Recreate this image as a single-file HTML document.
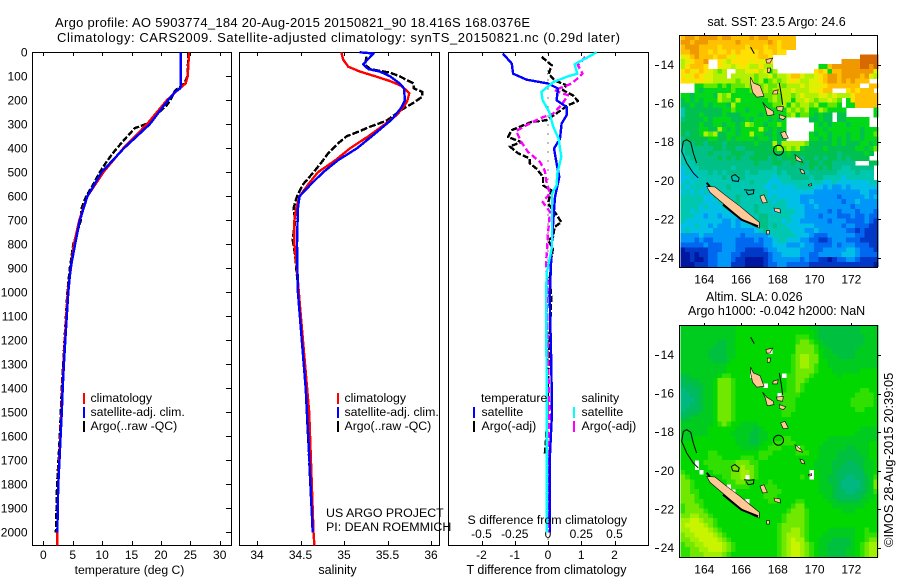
<!DOCTYPE html>
<html lang="en">
<head>
<meta charset="utf-8">
<title>Argo profile 5903774_184</title>
<style>
html,body{margin:0;padding:0;background:#fff;}
svg{display:block;}
text{font-family:"Liberation Sans",Arial,sans-serif;font-size:12.5px;fill:#000;}
</style>
</head>
<body>
<svg id="chart" xmlns="http://www.w3.org/2000/svg" width="900" height="580" viewBox="0 0 900 580">
<rect x="0" y="0" width="900" height="580" fill="#fff"/>
<text x="55" y="27" style="font-size:13px" textLength="475" lengthAdjust="spacing">Argo profile: AO 5903774_184 20-Aug-2015 20150821_90 18.416S 168.0376E</text>
<text x="57" y="42" style="font-size:13px" textLength="563" lengthAdjust="spacing">Climatology: CARS2009. Satellite-adjusted climatology: synTS_20150821.nc (0.29d later)</text>
<text x="129.5" y="574" text-anchor="middle" style="font-size:12.2px">temperature (deg C)</text>
<text x="337.5" y="574" text-anchor="middle">salinity</text>
<text x="546.5" y="574" text-anchor="middle">T difference from climatology</text>
<text x="467.5" y="524" style="font-size:12.4px">S difference from climatology</text>
<text x="326" y="517" style="font-size:12.4px">US ARGO PROJECT</text>
<text x="326" y="531" style="font-size:12.4px">PI: DEAN ROEMMICH</text>
<text x="776.5" y="26" text-anchor="middle">sat. SST: 23.5 Argo: 24.6</text>
<text x="706" y="301">Altim. SLA: 0.026</text>
<text x="688" y="315">Argo h1000: -0.042 h2000: NaN</text>
<text transform="translate(893,547) rotate(-90)" style="font-size:12.9px">©IMOS 28-Aug-2015 20:39:05</text>
<text x="90.5" y="402" style="font-size:12.3px">climatology</text>
<text x="90.5" y="416" style="font-size:12.3px">satellite-adj. clim.</text>
<text x="90.5" y="430" style="font-size:12.3px">Argo(..raw -QC)</text>
<text x="344.5" y="402" style="font-size:12.3px">climatology</text>
<text x="344.5" y="416" style="font-size:12.3px">satellite-adj. clim.</text>
<text x="344.5" y="430" style="font-size:12.3px">Argo(..raw -QC)</text>
<text x="481" y="402" style="font-size:12.3px">temperature</text>
<text x="481.5" y="416" style="font-size:12.3px">satellite</text>
<text x="481.5" y="430" style="font-size:12.3px">Argo(-adj)</text>
<text x="581.5" y="402" style="font-size:12.3px">salinity</text>
<text x="581.5" y="416" style="font-size:12.3px">satellite</text>
<text x="581.5" y="430" style="font-size:12.3px">Argo(-adj)</text>
</svg>
<script>
// ---- axis tick values ----
var depthTicks=[0,100,200,300,400,500,600,700,800,900,1000,1100,1200,1300,1400,1500,1600,1700,1800,1900,2000];
var tempTicks=[0,5,10,15,20,25,30];
var salTicks=[34,34.5,35,35.5,36];
var salTickLabels=['34','34.5','35','35.5','36'];
var tDiffTicks=[-2,-1,0,1,2];
var sDiffTicks=[-0.5,-0.25,0,0.25,0.5];
var sDiffTickLabels=['-0.5','-0.25','0','0.25','0.5'];
var lonTicks=[164,166,168,170,172];
var latTicks=[14,16,18,20,22,24];

// ---- temperature panel ----
var tempClimDepth=[0,100,130,150,200,300,400,500,600,700,800,900,1000,1100,1200,1300,1400,1500,1600,1700,1800,1900,2000,2055];
var tempClimValue=[24.8,24.55,24.2,23.2,21,17.6,13.6,10.2,7.5,6.1,5.2,4.7,4.15,3.9,3.65,3.45,3.25,3.1,2.9,2.7,2.55,2.45,2.4,2.35];
var tempSatDepth=[0,130,150,165,200,300,400,500,600,700,800,900,1000,1100,1200,1300,1400,1500,1600,1700,1800,1900,2000];
var tempSatValue=[23.4,23.4,23.3,22.4,21.2,18.1,13.7,9.9,7.5,6.2,5.4,4.65,4.25,4,3.75,3.5,3.3,3.15,2.95,2.75,2.55,2.45,2.4];
var tempArgoDepth=[0,100,130,160,200,220,296,316,344,400,428,455,500,550,600,650,700,800,900,1000,1200,1400,1600,1800,2000];
var tempArgoValue=[24.7,24.5,24,22.4,21.6,21,17.8,15.6,14.5,12.5,11.6,10.8,9.6,8.5,7.3,6.5,6.4,5.1,4.5,4.1,3.6,3.15,2.8,2.35,2.15];

// ---- salinity panel ----
var salClimDepth=[0,30,60,80,100,120,140,170,200,220,260,300,350,400,450,500,550,600,650,700,800,900,1000,1500,1800,2000,2055];
var salClimValue=[34.97,34.99,35.05,35.18,35.36,35.53,35.66,35.75,35.73,35.7,35.61,35.47,35.28,35.07,34.9,34.7,34.59,34.49,34.45,34.43,34.43,34.46,34.48,34.6,34.63,34.65,34.66];
var salSatDepth=[0,5,50,70,80,100,130,150,200,230,280,350,400,450,500,550,600,650,800,1000,1400,1600,2000];
var salSatValue=[35.18,35.34,35.22,35.28,35.41,35.53,35.64,35.69,35.7,35.66,35.55,35.32,35.15,34.93,34.76,34.62,34.49,34.47,34.46,34.47,34.56,34.59,34.64];
var salArgoDepth=[18,50,70,85,100,130,150,165,185,210,240,285,310,330,350,380,420,450,500,550,600,650,700,780,850,900,1000,1400,2000];
var salArgoValue=[35.26,35.24,35.3,35.53,35.64,35.8,35.8,35.9,35.9,35.8,35.66,35.49,35.3,35.17,35.03,34.93,34.82,34.76,34.65,34.53,34.46,34.42,34.44,34.41,34.44,34.45,34.48,34.56,34.64];

// ---- difference panel ----
var diffTSatDepth=[5,47,89,114,130,151,200,228,262,297,360,401,463,519,603,700,811,1020,1300,1500,1700,2000];
var diffTSatValue=[-1.36,-1.09,-1.05,-0.64,0,0.3,0.26,0.56,0.56,0.41,0.36,0.18,0.26,0.34,0.21,0.16,0.11,0.05,0.1,0.12,0.05,0.06];
var diffSSatDepth=[0,50,89,100,124,165,200,249,311,360,436,505,554,589,700,811,921,1020,1400,2000];
var diffSSatValue=[0.366,0.2,0.22,0.15,0.04,-0.05,-0.04,0.01,0.04,0.08,0.1,0.07,0.065,0.03,0.03,0.03,-0.01,-0.015,-0.01,-0.01];
var diffTArgoDepth=[19,54,89,117,137,158,179,203,221,255,283,290,325,353,374,392,421,442,463,484,519,554,575,630,665,707,728,770,783,817,858,950,1020,1300,1600,1680];
var diffTArgoValue=[-0.19,0.11,0.02,0.2,0.55,0.45,0.75,0.9,0.6,0.25,-0.05,-0.5,-1.1,-1.2,-0.8,-1.15,-0.9,-0.55,-0.55,-0.35,-0.15,-0.15,0.1,0,0.2,0.4,0.2,0.15,0,0.15,0.1,0.05,0.1,0.02,-0.05,-0.1];
var diffSArgoDepth=[19,54,89,130,158,179,221,255,275,297,328,374,415,457,492,546,587,624,665,755,840,880,975,1020,1500,2000];
var diffSArgoValue=[0.28,0.225,0.26,0.18,0.05,0.15,0.1,0.04,-0.06,-0.14,-0.24,-0.2,-0.15,-0.06,-0.025,-0.01,0.015,-0.04,0.015,0,-0.01,-0.015,0,-0.01,0.01,0.01];

// ---- SST heatmap (index into palette, '.' = no data); row = latitude band, column = longitude band ----
var sstPalette={'0':'#0018a0','1':'#0038c8','2':'#0068f0','3':'#0098f8','4':'#00c0e8','5':'#00c8b0','6':'#00c088','7':'#00c050','8':'#00d818','9':'#60e800','a':'#b0f000','b':'#e0f000','c':'#ffe000','d':'#ffc000','e':'#f09800','f':'#d86800'};
var sstRows=[
"deedeeeedeeddddedeedddddd..................",
"eedeeeddddddeddddddedcddd..................",
"deeeddddcdddddcdddcddcddd..................",
"ddeeddcdccdcdccccdccdcc....................",
"bcdedddcddcbcccccddc...................ffff",
"abcdde..cbaccccbcbbc...............eeeeffff",
"acdddc..cbbabcbaacaa..........88deeeeeeffef",
"cdbcdcba9a..aabbcab8a........cdc8ddeeeeeeeb",
"cbcdcbbaaa.aaaaa9aab9aabddbaabcdeedeeeedeba",
"ccbccbbaaaaa9aaa9a89a9abcbaabbcdeedededdd..",
"...8899989 8999a989a99a9aaababbbcddddddd..dd",
"...87888888988899 9a9aaaabaaabbcdd...cdcddd",
"88788887a9a888888899a9aa9abaaabbabaaacddddd",
"78787888a998a8888889a9aa8aaba9aaba9.8cddddd",
"77877878887a8888888899a8a9aa9a88998.88ddddd",
"57777777788988788888888a9a9a88a98888......8",
"577787777877788887888889a8998 7877.77......8",
"67777878888777878887878.....77877.7788888..",
"77778778878878a9887889 8......87878887 8888..",
"77778877a87878888a87878......88788888887888",
"76778a9a7788788a8877877.....878878887887889",
"67777788778788887887877.....88787878788788 8",
"66677677767777778777a7aaaaa97777787877788787",
"56666667767766777777 8a9a9a8777787777 7788789",
"56666676666777667777777877777777776777778 7",
"55666666767676677776767777677676776767777",
"55566666666666667666776676767767766666...77",
"45556666666566666666566666667676766556 6666",
"45455565656666566555565666656666665555 6555",
"44545555565556555555455566665665555455 5555",
"45455555555555565554445555555554454444 44455",
"54555455556555555544544445555443433434 44444",
"45454545555555555554444444444333333333 34433",
"55555445445565555554544444333333332333 33434",
"55555444555565555555455444334333333233 43333",
"55554544454545556555555444433433333332 33333",
"55454444444454556555455554433333232333 23332",
"55544344344444455665555544433323332223 22322",
"54444444433434455665554544333333233322 22321",
"44454434333434444665655444444333333233 22211",
"45444443333333334565555544433433333322 12111",
"33334333333332333334555554443222333333 22111",
"33323223333322223233455444332211233322 21111",
"22222322233322222233444333433222232333 22211",
"01111122233322111123344444333223333344 32221",
"00101122333221111112334444332233333444 32222",
"00100122333211000012333333232211012233 21111",
"00011122333111000012233222221111111111 11110"];

// ---- SLA heatmap ----
var slaPalette={'0':'#00b880','1':'#00ba60','2':'#00c040','3':'#00cc20','4':'#00d800','5':'#30e000','6':'#70e800','7':'#a0f000','8':'#c8f400'};
var slaRows=[
"3333333333 3344444444 4444444433 2222222223 333",
"3333333333 3344444444 4444444443 2222222223 333",
"3333333333 3344444444 4444455543 2222222222 333",
"3333333322 3344444444 4444456654 3222222222 333",
"3333333222 3344444444 4444466665 3322222223 333",
"3333332222 3344444444 4444466665 4332222233 333",
"3333332222 3344444444 4444567766 4333222233 333",
"3333333222 3444444444 4444567766 4433333333 333",
"3333333333 4444444444 4444567765 4433333333 333",
"3333333333 4444444444 4444566665 4443333334 444",
"2233333345 5444444444 4445566654 4444344444 444",
"1222333466 6544444444 4445566544 4444444444 444",
"1112233466 6544444444 4445565444 4444444444 444",
"0111233466 6544444444 4445565444 4444444445 544",
"0011233466 6544444444 4455554444 4444444455 554",
"0001233466 6544444444 4455544444 4444444555 554",
"0011233466 6544444444 4455544444 4444444555 554",
"0111233466 6544444444 4455544444 4444444455 444",
"1122333466 6544444444 4455444444 4444444444 444",
"2233333466 6544444444 4444444444 4444444444 444",
"3333333456 5443333444 4444444444 4444444444 444",
"3333334444 4433332344 4444444444 4444444443 333",
"3333334444 4333322334 4444444444 4444444433 333",
"3334444444 4433322334 4455444444 4433333333 333",
"4444444444 4433322344 5555544444 4333333333 344",
"4444444444 4443333445 5544455444 3333332233 344",
"4444445544 4444444555 4444455544 3333222223 344",
"4444445554 4445554554 4444444444 3333222222 344",
"444.455555 5566655444 4444444443 3332221122 334",
"444.445555 5667665444 4444444443 3332211112 334",
"5444.44555 5667765444 4444444444 3332111111 334",
"6544444445 5667665444 4444445444 3322110011 235",
"6654444444 5566554445 4444444444 3322100001 236",
"6654444444 4555544455 5444444444 3332100001 236",
"6655444444 4444444455 5544444444 3332110011 235",
"6665444444 4444444455 5444444444 4332111112 334",
"6665544444 4444444445 5444455444 4433222223 344",
"5666544444 4444444444 4444566444 4443333333 444",
"5666654444 4444444444 4445666544 4444433344 444",
"6677665444 4444444444 4456666544 4444444444 444",
"7788766544 4444444444 4456666544 4444444444 444",
"7888876544 4444444444 4566666544 4444444444 444",
"7788887654 4444444444 4566776544 4433333344 544",
"6778888765 4444444444 4567776544 4333333344 555",
"6677888876 5444444444 4567877544 3332222344 566",
"5667788887 6544444444 4567887654 3322222345 677",
"5566778887 6544444444 4567887654 3322223345 677",
"5566677776 5444444444 4567887654 3322223345 677"];
// SLA cells masked to no-data around the coast
var slaMaskRow=[10,12,5,14,25,30,31,33,34,36,31,10];
var slaMaskCol=[15,18,19,21,25,28,28,10,11,14,14,22];

// ---- coastline outlines as lon / south-lat pairs ----
var landLon=[
[164.13,164.58,165.21,165.94,166.48,166.99,166.99,166.67,165.94,165.31,164.67,164.31],
[166.52,166.67,167.03,167.25,166.85,166.63,166.52],
[167.17,167.39,167.75,167.79,167.43,167.32],
[168.15,168.39,168.57,168.3],
[167.75,168.02,167.97,167.72],
[167.93,168.3,168.26,167.97],
[168.08,168.44,168.3,168.08],
[167.35,167.72,167.57,167.39],
[167.43,167.61,167.57,167.43],
[168.93,169.29,169.34,169.01],
[169.2,169.41,169.47,169.29],
[169.66,169.84,169.84,169.69],
[167.03,167.25,167.43,167.17],
[167.79,168.12,168.15,167.84],
[167.39,167.54,167.54,167.39]];
var landLat=[
[20.29,20.32,20.8,21.32,21.75,22.15,22.45,22.32,21.93,21.41,20.89,20.6],
[14.62,14.93,15.07,15.62,15.67,15.41,14.93],
[15.93,16.18,16.4,16.57,16.63,16.23],
[17.52,17.44,17.78,17.83],
[15.36,15.28,15.5,15.5],
[16.18,16.14,16.4,16.35],
[16.57,16.69,16.83,16.75],
[13.72,13.64,13.9,13.9],
[14.16,14.16,14.38,14.38],
[18.65,18.91,19.04,18.94],
[19.39,19.46,19.65,19.6],
[20.2,20.15,20.25,20.27],
[20.8,20.72,21.12,21.15],
[21.41,21.46,21.67,21.58],
[22.58,22.58,22.76,22.76]];
var reefLon=[[163.67,163.4,163.04,162.77,162.86,163.04,163.26,163.4,163.58],[166.52,166.72],[165.47,165.67,165.9,165.85,165.54,165.47],[166.16,166.45,166.7,166.67,166.39,166.27],[168.08,168.2,168.26]];
var reefLat=[[19.85,19.6,19.08,18.47,17.96,17.87,18.0,18.56,19.08],[13.07,13.41],[19.77,19.68,19.85,20.03,20.0,19.77],[20.46,20.49,20.46,20.67,20.72,20.55],[14.93,15.6,16.06]];
var coastLon=[[165.02,166.03,166.92],[164.13,164.3]];
var coastLat=[[21.24,22.02,22.36],[20.1,20.3]];
var floatLon=168.0376;
var floatLat=18.416;

var NS='http://www.w3.org/2000/svg';
var svg=document.getElementById('chart');
var texts=Array.prototype.slice.call(svg.querySelectorAll('text'));

function mk(tag,parent,attrs){
  var e=document.createElementNS(NS,tag);
  for(var k in attrs){e.setAttribute(k,attrs[k]);}
  parent.appendChild(e);
  return e;
}
// axis scales
var PT=52.3, PB=545.3;
function yDepth(d){return 52.3+0.24*d;}
function xTemp(t){return 43.3+5.88*t;}
function xSal(s){return 257+87*(s-34);}
function xTDiff(t){return 548+33.25*t;}
function xSDiff(s){return 548+133*s;}

function panelFrame(name,x0,x1){
  var r=mk('rect',svg,{x:x0+0.5,y:52.5,width:x1-x0,height:493,fill:'none',stroke:'#000','stroke-width':1,'shape-rendering':'crispEdges'});
  
  
}
function xTicks(name,scale,ticks,labels,x0,labelY){
  var g=mk('g',svg,{});
  
  
  ticks.forEach(function(t,i){
    var x=Math.round(scale(t))+0.5;
    var a=mk('line',g,{x1:x,x2:x,y1:52,y2:56,stroke:'#000','shape-rendering':'crispEdges'});
    
    
    var b=mk('line',g,{x1:x,x2:x,y1:541,y2:545,stroke:'#000','shape-rendering':'crispEdges'});
    
    
    var tx=mk('text',g,{x:scale(t),y:labelY,'text-anchor':'middle'});
    tx.textContent=labels[i];
    tx.setAttribute('style','font-size:12px');
    
    
  });
}
function series(name,depth,vals,xf,color,width,dash){
  var pts=depth.map(function(d,i){return xf(vals[i]).toFixed(1)+','+yDepth(d).toFixed(1);}).join(' ');
  var attrs={points:pts,fill:'none',stroke:color,'stroke-width':width,'shape-rendering':'crispEdges','stroke-linejoin':'round'};
  if(dash){attrs['stroke-dasharray']=dash;}
  var p=mk('polyline',svg,attrs);
  
  
}
function bar(name,x,y,color){
  var r=mk('rect',svg,{x:x,y:y,width:2,height:11,fill:color,'shape-rendering':'crispEdges'});
  
  
}

// panels
panelFrame('temperature-panel-frame',32,231);
panelFrame('salinity-panel-frame',239,439);
panelFrame('difference-panel-frame',448,648);

// depth axis on temperature panel
var depthAxis=mk('g',svg,{});


depthTicks.forEach(function(d){
  var y=Math.round(yDepth(d))+0.5;
  var l=mk('line',depthAxis,{x1:226,x2:231,y1:y,y2:y,stroke:'#000','shape-rendering':'crispEdges'});
  
  
  var t=mk('text',depthAxis,{x:27.5,y:yDepth(d)+4,'text-anchor':'end'});
  t.textContent=String(d);
  t.setAttribute('style','font-size:12px');
  
  
});
xTicks('temperature-axis',xTemp,tempTicks,tempTicks.map(String),32,559);
xTicks('salinity-axis',xSal,salTicks,salTickLabels,239,559);
xTicks('t-difference-axis',xTDiff,tDiffTicks,tDiffTicks.map(String),448,559);
var sLabelGroup=mk('g',svg,{});


sDiffTicks.forEach(function(s,i){
  var t=mk('text',sLabelGroup,{x:xSDiff(s),y:538,'text-anchor':'middle'});
  t.textContent=sDiffTickLabels[i];
  t.setAttribute('style','font-size:12px');
  
  
});

// zero reference line
var zero=mk('line',svg,{x1:xTDiff(0),x2:xTDiff(0),y1:PT,y2:PB,stroke:'#000','stroke-width':1,'stroke-dasharray':'1 8','shape-rendering':'crispEdges'});



// series
series('temperature-argo-line',tempArgoDepth,tempArgoValue,xTemp,'#000',2.4,'6 2');
series('temperature-climatology-line',tempClimDepth,tempClimValue,xTemp,'#f00',2.4);
series('temperature-satellite-line',tempSatDepth,tempSatValue,xTemp,'#00f',2.4);
series('salinity-argo-line',salArgoDepth,salArgoValue,xSal,'#000',2.4,'7 2');
series('salinity-climatology-line',salClimDepth,salClimValue,xSal,'#f00',2.4);
series('salinity-satellite-line',salSatDepth,salSatValue,xSal,'#00f',2.4);
series('t-diff-argo-line',diffTArgoDepth,diffTArgoValue,xTDiff,'#000',2.4,'6 2');
series('s-diff-argo-line',diffSArgoDepth,diffSArgoValue,xSDiff,'#f0f',2.4,'6 3');
series('t-diff-satellite-line',diffTSatDepth,diffTSatValue,xTDiff,'#00f',2.4);
series('s-diff-satellite-line',diffSSatDepth,diffSSatValue,xSDiff,'#0ff',2.4);

// legends
bar('legend-swatch-temp-climatology',83,393,'#f00');
bar('legend-swatch-temp-satellite',83,407,'#00f');
bar('legend-swatch-temp-argo',83,421,'#000');
bar('legend-swatch-sal-climatology',337,393,'#f00');
bar('legend-swatch-sal-satellite',337,407,'#00f');
bar('legend-swatch-sal-argo',337,421,'#000');
bar('legend-swatch-diff-t-satellite',473,407,'#00f');
bar('legend-swatch-diff-t-argo',473,421,'#000');
bar('legend-swatch-diff-s-satellite',573,407,'#0ff');
bar('legend-swatch-diff-s-argo',573,421,'#f0f');

// maps
function drawMap(prefix,top,rows,palette,maskRow,maskCol){
  var bottom=top+232;
  function xLon(lon){return 704.3+18.38*(lon-164);}
  function yLat(lat){return top+30+19.3*(lat-14);}
  var g=mk('g',svg,{});
  
  
  var lon0=162.71, lat0=12.45, step=0.25;
  function masked(r,c){
    for(var m=0;m<maskRow.length;m++){if(maskRow[m]===r&&maskCol[m]===c){return true;}}
    return false;
  }
  rows.forEach(function(raw,r){
    var row=raw.replace(/\s/g,'');
    for(var c=0;c<43;c++){
      var ch=row.charAt(c);
      if(ch==='.'||ch===''||masked(r,c)){continue;}
      var x1=xLon(lon0+c*step), x2=xLon(lon0+(c+1)*step);
      var y1=yLat(lat0+r*step), y2=yLat(lat0+(r+1)*step);
      var cell=mk('rect',g,{x:x1.toFixed(1),y:y1.toFixed(1),width:(x2-x1+0.4).toFixed(1),height:(y2-y1+0.4).toFixed(1),fill:palette[ch],'shape-rendering':'crispEdges'});
      
      
    }
  });
  var land=mk('g',svg,{});
  
  
  landLon.forEach(function(lons,i){
    var pts=lons.map(function(lon,j){return xLon(lon).toFixed(1)+','+yLat(landLat[i][j]).toFixed(1);}).join(' ');
    var p=mk('polygon',land,{points:pts,fill:'#ffc896',stroke:'#000','stroke-width':0.6});
    
    
  });
  reefLon.forEach(function(lons,i){
    var pts=lons.map(function(lon,j){return xLon(lon).toFixed(1)+','+yLat(reefLat[i][j]).toFixed(1);}).join(' ');
    var p=mk('polyline',land,{points:pts,fill:'none',stroke:'#000','stroke-width':1});
    
    
  });
  coastLon.forEach(function(lons,i){
    var pts=lons.map(function(lon,j){return xLon(lon).toFixed(1)+','+yLat(coastLat[i][j]).toFixed(1);}).join(' ');
    var p=mk('polyline',land,{points:pts,fill:'none',stroke:'#000','stroke-width':2});
    
    
  });
  var c=mk('circle',svg,{cx:xLon(floatLon),cy:yLat(floatLat),r:5,fill:'none',stroke:'#000','stroke-width':1});
  
  
  var f=mk('rect',svg,{x:679.5,y:top+0.5,width:198,height:232,fill:'none',stroke:'#000','shape-rendering':'crispEdges'});
  
  
  lonTicks.forEach(function(lon){
    var x=Math.round(xLon(lon))+0.5;
    var t=mk('line',svg,{x1:x,x2:x,y1:top-2,y2:top,stroke:'#000','shape-rendering':'crispEdges'});
    
    
    var l=mk('text',svg,{x:xLon(lon),y:bottom+16.5,'text-anchor':'middle'});
    l.textContent=String(lon);
    l.setAttribute('style','font-size:12px');
    
    
  });
  latTicks.forEach(function(lat){
    var y=Math.round(yLat(lat))+0.5;
    var t=mk('line',svg,{x1:655,x2:659,y1:y,y2:y,stroke:'#000','shape-rendering':'crispEdges'});
    
    
    var r=mk('line',svg,{x1:878,x2:881,y1:y,y2:y,stroke:'#000','shape-rendering':'crispEdges'});
    
    
    var l=mk('text',svg,{x:674,y:yLat(lat)+4,'text-anchor':'end'});
    l.textContent=String(lat);
    l.setAttribute('style','font-size:12px');
    
    
  });
}
drawMap('sst-map',35,sstRows,sstPalette,[],[]);
drawMap('sla-map',325,slaRows,slaPalette,slaMaskRow,slaMaskCol);

// keep annotation text above the marks
texts.forEach(function(t){svg.appendChild(t);});
</script>
</body>
</html>
